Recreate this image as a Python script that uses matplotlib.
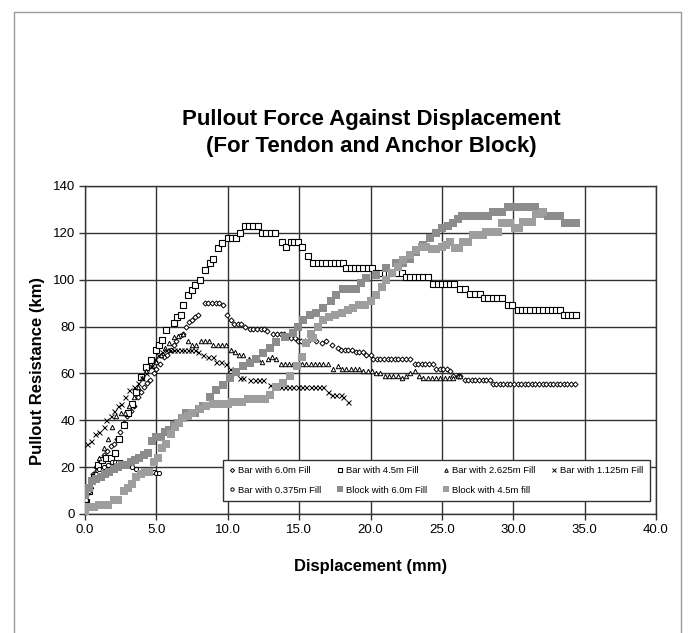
import numpy as np
import matplotlib.pyplot as plt
from matplotlib.patches import Rectangle

plt.rcParams['font.family'] = ['Liberation Sans', 'DejaVu Sans']

# (displacement mm, pullout resistance)
bar_60 = [(0.1, 8), (0.3, 12), (0.55, 17), (0.8, 20), (1.05, 23), (1.3, 25), (1.55, 27), (1.8, 29),
          (2.0, 30), (2.25, 32), (2.45, 35), (2.7, 39), (2.95, 42), (3.2, 44), (3.4, 46), (3.7, 50),
          (3.9, 52), (4.1, 54), (4.35, 56), (4.55, 57), (4.8, 60), (5.0, 62), (5.25, 64), (5.5, 67),
          (5.75, 68), (6.0, 70), (6.2, 72), (6.4, 74), (6.65, 76), (6.9, 77), (7.1, 80), (7.3, 82),
          (7.5, 83), (7.7, 84), (7.9, 85), (8.4, 90), (8.65, 90), (8.9, 90), (9.15, 90), (9.4, 90),
          (9.65, 89), (9.95, 85), (10.2, 83), (10.45, 81), (10.7, 81), (10.95, 81), (11.2, 80),
          (11.55, 79), (11.8, 79), (12.05, 79), (12.3, 79), (12.55, 79), (12.75, 78), (13.2, 77),
          (13.45, 77), (13.7, 77), (13.95, 77), (14.2, 76), (14.45, 75), (14.7, 75), (14.9, 74),
          (15.15, 74), (15.4, 74), (15.6, 74), (15.9, 75), (16.2, 74), (16.6, 73), (16.9, 74),
          (17.3, 72), (17.7, 71), (17.95, 70), (18.2, 70), (18.45, 70), (18.7, 70), (18.95, 69),
          (19.2, 69), (19.45, 69), (19.7, 68), (20.0, 68), (20.2, 66), (20.45, 66), (20.7, 66),
          (20.95, 66), (21.2, 66), (21.45, 66), (21.7, 66), (21.95, 66), (22.2, 66), (22.5, 66),
          (22.8, 66), (23.1, 64), (23.35, 64), (23.6, 64), (23.85, 64), (24.1, 64), (24.4, 64),
          (24.6, 62), (24.85, 62), (25.1, 62), (25.35, 62), (25.6, 61), (25.8, 59), (26.1, 59),
          (26.3, 59), (26.6, 57), (26.85, 57), (27.1, 57), (27.35, 57), (27.6, 57), (27.85, 57),
          (28.1, 57), (28.35, 57), (28.55, 55.5), (28.8, 55.5), (29.05, 55.5), (29.3, 55.5),
          (29.55, 55.5), (29.8, 55.5), (30.05, 55.5), (30.3, 55.5), (30.55, 55.5), (30.8, 55.5),
          (31.05, 55.5), (31.3, 55.5), (31.55, 55.5), (31.8, 55.5), (32.05, 55.5), (32.3, 55.5),
          (32.55, 55.5), (32.8, 55.5), (33.05, 55.5), (33.3, 55.5), (33.55, 55.5), (33.8, 55.5),
          (34.05, 55.5), (34.35, 55.5)]

bar_45 = [(0.1, 5), (0.3, 10), (0.6, 16), (0.9, 21), (1.2, 23), (1.5, 24), (1.8, 24), (2.1, 26),
          (2.4, 32), (2.7, 38), (3.0, 43), (3.3, 47), (3.6, 52), (3.9, 58.5), (4.3, 62.7),
          (4.6, 65.7), (5.0, 70), (5.2, 72), (5.4, 74.3), (5.7, 78.5), (6.2, 81.5), (6.45, 84),
          (6.7, 85), (6.9, 89), (7.2, 93.5), (7.5, 95.6), (7.7, 97.7), (8.05, 100), (8.4, 104),
          (8.75, 107), (9.0, 109), (9.3, 113.5), (9.6, 115.6), (10.0, 118), (10.3, 118), (10.6, 118),
          (10.85, 120), (11.2, 123), (11.5, 123), (11.8, 123), (12.1, 123), (12.4, 120), (12.7, 120),
          (13.0, 120), (13.3, 120), (13.8, 116), (14.1, 114), (14.4, 116), (14.65, 116), (14.9, 116),
          (15.2, 114), (15.6, 110), (16.0, 107), (16.3, 107), (16.6, 107), (16.9, 107), (17.2, 107),
          (17.5, 107), (17.8, 107), (18.05, 107), (18.3, 105), (18.6, 105), (18.9, 105), (19.2, 105),
          (19.5, 105), (19.8, 105), (20.1, 105), (20.4, 103), (20.7, 103), (21.0, 103), (21.3, 103),
          (21.6, 103), (21.9, 103), (22.2, 103), (22.5, 101), (22.8, 101), (23.1, 101), (23.4, 101),
          (23.7, 101), (24.0, 101), (24.4, 98), (24.7, 98), (25.0, 98), (25.3, 98), (25.6, 98),
          (25.85, 98), (26.3, 96), (26.6, 96), (27.0, 94), (27.3, 94), (27.65, 94), (27.95, 92),
          (28.25, 92), (28.55, 92), (28.85, 92), (29.2, 92), (29.6, 89), (29.9, 89), (30.3, 87),
          (30.6, 87), (30.9, 87), (31.2, 87), (31.5, 87), (31.8, 87), (32.1, 87), (32.4, 87),
          (32.7, 87), (33.0, 87), (33.3, 87), (33.55, 85), (33.85, 85), (34.15, 85), (34.4, 85)]

bar_2625 = [(0.1, 6), (0.4, 12), (0.7, 18), (1.0, 24), (1.3, 28), (1.6, 32), (1.9, 37), (2.2, 42),
            (2.5, 43), (2.8, 43), (3.1, 46), (3.4, 50), (3.7, 54), (4.0, 58), (4.3, 61), (4.7, 63),
            (5.0, 65), (5.3, 68), (5.6, 71), (5.9, 73), (6.2, 75.5), (6.5, 76), (6.9, 77), (7.2, 74),
            (7.5, 72), (7.8, 72), (8.1, 74), (8.4, 74), (8.7, 74), (9.0, 72), (9.3, 72), (9.6, 72),
            (9.9, 72), (10.2, 70), (10.5, 69), (10.8, 68), (11.1, 68), (11.5, 66), (11.8, 66),
            (12.1, 66), (12.4, 65), (12.8, 66), (13.1, 67), (13.4, 66), (13.7, 64), (14.0, 64),
            (14.3, 64), (14.6, 64), (14.9, 64), (15.2, 64), (15.5, 64), (15.8, 64), (16.1, 64),
            (16.4, 64), (16.7, 64), (17.0, 64), (17.4, 62), (17.7, 63), (18.0, 62), (18.3, 62),
            (18.6, 62), (18.9, 62), (19.2, 62), (19.5, 61), (19.8, 61), (20.1, 61), (20.4, 60),
            (20.7, 60), (21.0, 59), (21.3, 59), (21.6, 59), (21.9, 59), (22.2, 58), (22.5, 59),
            (22.8, 60), (23.1, 61), (23.4, 59), (23.7, 58), (24.0, 58), (24.3, 58), (24.6, 58),
            (24.9, 58), (25.2, 58), (25.5, 58), (25.8, 58), (26.1, 59), (26.3, 59)]

bar_1125 = [(0.15, 30), (0.4, 31), (0.7, 34), (1.0, 35), (1.3, 37), (1.5, 40), (1.8, 42), (2.0, 44),
            (2.3, 46), (2.5, 47), (2.8, 50), (3.1, 53), (3.4, 54), (3.7, 56), (4.0, 58), (4.3, 60),
            (4.6, 63), (4.9, 66), (5.1, 68), (5.4, 69), (5.7, 70), (5.95, 70), (6.2, 70), (6.45, 70),
            (6.7, 70), (6.95, 70), (7.2, 70), (7.45, 70), (7.7, 70), (7.95, 69), (8.3, 68), (8.6, 67),
            (9.0, 67), (9.2, 65), (9.5, 65), (9.9, 64), (10.15, 62), (10.5, 60), (10.85, 58),
            (11.1, 58), (11.55, 57), (11.9, 57), (12.2, 57), (12.5, 57), (12.95, 55), (13.4, 54),
            (13.7, 54), (14.0, 54), (14.3, 54), (14.6, 54), (14.9, 54), (15.2, 54), (15.5, 54),
            (15.8, 54), (16.1, 54), (16.4, 54), (16.7, 54), (17.0, 52), (17.3, 51), (17.6, 51),
            (17.9, 51), (18.1, 50), (18.4, 48)]

bar_0375 = [(0.05, 6), (0.25, 10), (0.5, 14), (0.75, 17), (1.0, 19), (1.3, 20), (1.6, 21), (1.9, 22),
            (2.1, 22), (2.3, 22), (2.5, 22), (2.7, 21), (3.0, 21), (3.3, 20), (3.6, 19), (3.9, 18),
            (4.2, 18), (4.4, 18), (4.6, 18), (4.8, 18), (5.0, 17.5), (5.15, 17.5)]

block_60 = [(0.0, 8), (0.25, 11), (0.5, 14), (0.8, 15), (1.1, 16), (1.4, 17), (1.7, 18), (2.0, 19),
            (2.3, 20), (2.6, 21), (2.9, 21), (3.2, 22), (3.5, 23), (3.8, 24), (4.1, 25), (4.4, 26),
            (4.7, 31), (5.0, 33), (5.3, 33), (5.6, 35), (5.9, 36), (6.2, 38), (6.5, 39), (6.8, 41),
            (7.1, 43), (7.4, 43), (7.7, 43), (8.0, 45), (8.3, 46), (8.75, 50), (9.2, 53), (9.7, 55),
            (10.15, 58), (10.6, 60.6), (11.1, 63), (11.55, 64.4), (12.0, 66), (12.5, 68.7),
            (12.95, 71), (13.4, 73.4), (14.0, 75.5), (14.6, 77.2), (14.9, 80), (15.3, 82.8),
            (15.75, 85), (16.2, 86), (16.7, 88), (17.2, 91), (17.6, 93.5), (18.1, 96), (18.55, 96),
            (19.0, 96), (19.3, 98.6), (19.7, 100.7), (20.4, 102), (21.1, 105), (21.8, 107), (22.3, 107),
            (22.8, 109), (23.2, 112), (23.7, 115), (24.2, 118), (24.6, 120), (25.0, 122), (25.4, 123),
            (25.8, 124), (26.1, 126), (26.4, 127), (26.7, 127), (27.0, 127), (27.3, 127), (27.6, 127),
            (27.9, 127), (28.2, 127), (28.6, 129), (28.9, 129), (29.2, 129), (29.6, 131), (29.9, 131),
            (30.2, 131), (30.5, 131), (30.8, 131), (31.1, 131), (31.5, 131), (31.8, 129), (32.1, 129),
            (32.4, 127), (32.7, 127), (33.0, 127), (33.3, 127), (33.6, 124), (33.9, 124), (34.2, 124),
            (34.4, 124)]

block_45 = [(0.0, 0), (0.3, 3), (0.6, 3), (1.0, 4), (1.3, 4), (1.6, 4), (2.0, 6), (2.3, 6), (2.7, 10),
            (3.0, 11), (3.3, 13), (3.6, 16), (3.9, 17), (4.2, 18), (4.5, 18), (4.8, 22), (5.1, 24),
            (5.4, 28), (5.7, 30), (6.0, 34), (6.3, 37), (6.6, 39), (6.9, 41), (7.2, 42), (7.5, 43),
            (8.05, 45), (8.5, 46), (9.0, 47), (9.5, 47), (10.0, 47), (10.3, 48), (10.6, 48), (11.0, 48),
            (11.4, 49), (11.8, 49), (12.2, 49), (12.6, 49), (12.95, 51), (13.4, 54), (13.9, 56),
            (14.35, 59), (14.85, 63), (15.2, 67), (15.5, 73), (15.8, 77), (16.0, 75), (16.3, 80),
            (16.7, 83), (17.1, 84), (17.5, 85), (18.0, 86), (18.4, 87), (18.8, 88), (19.2, 89),
            (19.6, 89), (20.0, 91), (20.4, 93.5), (20.8, 97), (21.1, 100), (21.5, 103), (21.9, 105.5),
            (22.3, 108.4), (22.8, 110.5), (23.2, 112.7), (23.6, 114), (23.9, 114), (24.3, 113),
            (24.6, 113), (25.0, 114), (25.3, 115), (25.6, 116), (25.9, 113.5), (26.2, 113.5),
            (26.5, 116), (26.8, 116), (27.2, 119), (27.6, 119), (27.9, 119), (28.1, 120.5),
            (28.5, 120.5), (28.9, 120.5), (29.2, 124), (29.5, 124), (29.8, 124), (30.1, 122),
            (30.4, 122), (30.7, 124.6), (31.0, 124.6), (31.3, 124.6), (31.6, 128), (31.9, 128),
            (32.1, 129)]

labels = ['Bar with 6.0m Fill', 'Bar with 4.5m Fill', 'Bar with 2.625m Fill',
          'Bar with 1.125m Fill', 'Bar with 0.375m Fill', 'Block with 6.0m Fill',
          'Block with 4.5m fill']

fig = plt.figure(figsize=(6.94, 6.33), dpi=100)
fig.patches.append(Rectangle((14 / 694, -0.01), 667 / 694, 1.01 - 12 / 633,
                             transform=fig.transFigure, fill=False,
                             edgecolor='#999999', linewidth=1))
ax = fig.add_axes([85 / 694, 1 - 514 / 633, 571 / 694, 328 / 633])

styles = [
    dict(marker='D', ms=2.6, mfc='white', mec='black', mew=0.7),
    dict(marker='s', ms=4.4, mfc='white', mec='black', mew=0.8),
    dict(marker='^', ms=3.2, mfc='white', mec='black', mew=0.7),
    dict(marker='x', ms=3.6, mec='black', mew=0.7),
    dict(marker='o', ms=3.0, mfc='white', mec='black', mew=0.7),
    dict(marker='s', ms=6.0, mfc='#8c8c8c', mec='#8c8c8c', mew=0),
    dict(marker='s', ms=6.0, mfc='#9e9e9e', mec='#9e9e9e', mew=0),
]
series = [bar_60, bar_45, bar_2625, bar_1125, bar_0375, block_60, block_45]

handles = []
for data, st, lab in zip(series, styles, labels):
    xs = [p[0] for p in data]
    ys = [p[1] for p in data]
    h, = ax.plot(xs, ys, linestyle='none', label=lab, zorder=3, **st)
    handles.append(h)

ax.set_xlim(0, 40)
ax.set_ylim(0, 140)
ax.set_xticks(np.arange(0, 41, 5))
ax.set_xticklabels([f'{v:.1f}' for v in np.arange(0, 41, 5)])
ax.set_yticks(np.arange(0, 141, 20))
ax.grid(True, color='#333333', linewidth=1.0)
ax.set_axisbelow(True)
for s in ax.spines.values():
    s.set_color('#333333')
    s.set_linewidth(1.0)
ax.tick_params(direction='out', length=4, width=1, color='#333333',
               labelsize=9.5, pad=3)

order = [0, 4, 1, 5, 2, 6, 3]
leg = ax.legend([handles[i] for i in order], [labels[i] for i in order],
                ncol=4, loc='lower left', bbox_to_anchor=(0.233, 0.024, 0.764, 0.14),
                mode='expand', fontsize=6.8, frameon=True, fancybox=False,
                edgecolor='#333333', framealpha=1, handlelength=0.6,
                handletextpad=0.3, columnspacing=0.5, labelspacing=1.1,
                borderpad=0.7, markerscale=0.8)
leg.get_frame().set_linewidth(1.0)
leg.set_zorder(5)

fig.text(371 / 694, 1 - 133 / 633,
         'Pullout Force Against Displacement\n(For Tendon and Anchor Block)',
         ha='center', va='center', fontsize=16, fontweight='bold', linespacing=1.4)
fig.text(371 / 694, 1 - 567 / 633, 'Displacement (mm)', ha='center', va='center',
         fontsize=12, fontweight='bold')
fig.text(38 / 694, 1 - 371 / 633, 'Pullout Resistance (km)', ha='center', va='center',
         rotation=90, fontsize=12, fontweight='bold')

fig.savefig('out.png', dpi=100)
